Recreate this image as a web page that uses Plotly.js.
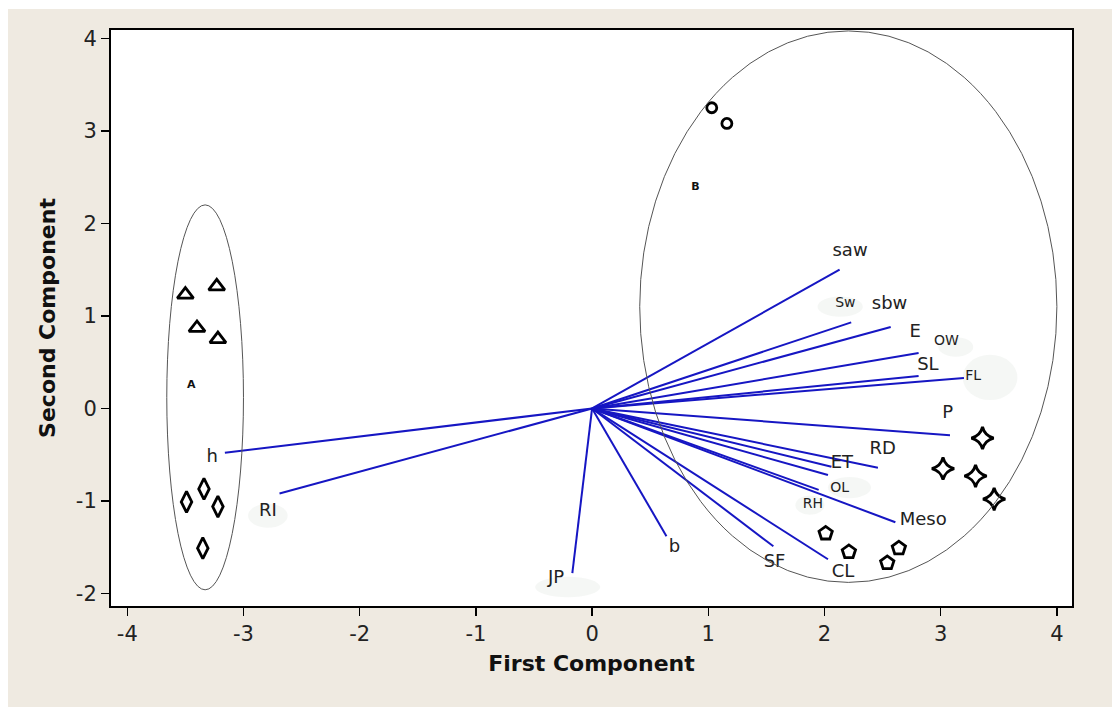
<!DOCTYPE html>
<html>
<head>
<meta charset="utf-8">
<script src="https://cdn.plot.ly/plotly-3.0.1.min.js"></script>
<style>
  html, body { margin: 0; padding: 0; background: #ffffff; width: 1112px; height: 707px; overflow: hidden; }
  #chart { position: absolute; left: 8px; top: 9px; width: 1104px; height: 698px; }
</style>
</head>
<body>
<div id="chart"></div>
<script>
// ---- Scores (observations) ----
const triX = [-3.50, -3.23, -3.40, -3.22];
const triY = [1.23, 1.32, 0.87, 0.75];
const diaX = [-3.49, -3.34, -3.22, -3.35];
const diaY = [-1.01, -0.87, -1.06, -1.51];
const cirX = [1.03, 1.16];
const cirY = [3.25, 3.08];
const starX = [3.36, 3.02, 3.30, 3.46];
const starY = [-0.32, -0.65, -0.73, -0.98];
const pentX = [2.01, 2.21, 2.64, 2.54];
const pentY = [-1.35, -1.55, -1.51, -1.67];

// ---- Loadings (vector end points) ----
const vecNames = ["h", "RI", "JP", "b", "SF", "CL", "Meso", "RH", "OL", "ET", "RD", "P", "FL", "SL", "E", "sbw", "Sw", "saw"];
const vecX = [-3.16, -2.69, -0.17, 0.64, 1.56, 2.03, 2.61, 1.95, 2.03, 2.06, 2.46, 3.08, 3.20, 2.81, 2.81, 2.57, 2.23, 2.13];
const vecY = [-0.48, -0.92, -1.78, -1.38, -1.49, -1.63, -1.23, -0.88, -0.72, -0.63, -0.64, -0.29, 0.33, 0.35, 0.60, 0.88, 0.93, 1.50];

// ---- Variable labels ----
const labText = ["h", "RI", "JP", "b", "SF", "CL", "Meso", "RH", "OL", "ET", "RD", "P", "FL", "SL", "OW", "E", "sbw", "Sw", "saw"];
const labX = [-3.27, -2.79, -0.31, 0.71, 1.57, 2.16, 2.85, 1.90, 2.13, 2.15, 2.50, 3.06, 3.28, 2.89, 3.05, 2.78, 2.56, 2.18, 2.22];
const labY = [-0.53, -1.11, -1.84, -1.50, -1.67, -1.77, -1.21, -1.04, -0.86, -0.59, -0.44, -0.05, 0.34, 0.46, 0.72, 0.82, 1.12, 1.13, 1.70];
const labSmall = ["RH", "OL", "FL", "OW", "Sw"];

// ---- Group labels and ellipses ----
const groupText = ["A", "B"];
const groupX = [-3.45, 0.89];
const groupY = [0.25, 2.39];
const ellX0 = [-3.66, 0.41];
const ellX1 = [-3.00, 4.00];
const ellY0 = [-1.96, -1.88];
const ellY1 = [2.20, 4.08];

// ---- Axis ticks ----
const xTicks = [-4, -3, -2, -1, 0, 1, 2, 3, 4];
const yTicks = [-2, -1, 0, 1, 2, 3, 4];

// faint erased blobs behind some labels [x0,x1,y0,y1]
const blobs = [
  [-2.96, -2.62, -1.29, -1.03],
  [-0.49, 0.07, -2.04, -1.82],
  [1.94, 2.33, 0.99, 1.21],
  [2.98, 3.28, 0.56, 0.77],
  [3.19, 3.66, 0.09, 0.58],
  [2.03, 2.40, -0.97, -0.74],
  [1.75, 2.00, -1.15, -0.94]
];

const FONT = "'DejaVu Sans', sans-serif";
const blue = "rgb(22,22,195)";

// build vector trace with null separators
const vx = [], vy = [];
for (let i = 0; i < vecNames.length; i++) {
  vx.push(0, vecX[i], null);
  vy.push(0, vecY[i], null);
}

function markerTrace(x, y, symbol, size) {
  return {
    type: "scatter", mode: "markers", x: x, y: y, hoverinfo: "skip",
    marker: { symbol: symbol, size: size, color: "black", line: { color: "black", width: 2.8 } }
  };
}

const traces = [
  { type: "scatter", mode: "lines", x: vx, y: vy, hoverinfo: "skip",
    line: { color: blue, width: 2 } },
  markerTrace(triX, triY, "triangle-up-open", 14),
  markerTrace(diaX, diaY, "diamond-tall-open", 15),
  markerTrace(cirX, cirY, "circle-open", 10),
  markerTrace(starX, starY, "star-diamond-open", 16),
  markerTrace(pentX, pentY, "pentagon-open", 14),
  { type: "scatter", mode: "text", x: labX, y: labY, text: labText, hoverinfo: "skip",
    textposition: "middle center",
    textfont: { family: FONT, color: "#222",
      size: labText.map(t => labSmall.includes(t) ? 14 : 18) } },
  { type: "scatter", mode: "text", x: groupX, y: groupY, text: groupText, hoverinfo: "skip",
    textposition: "middle center",
    textfont: { family: FONT, color: "#111", size: 11, weight: "bold" } }
];

const shapes = [];
blobs.forEach(b => shapes.push({
  type: "circle", xref: "x", yref: "y", x0: b[0], x1: b[1], y0: b[2], y1: b[3],
  fillcolor: "rgba(238,242,239,0.6)", line: { width: 0 }, layer: "below"
}));
for (let i = 0; i < ellX0.length; i++) {
  shapes.push({
    type: "circle", xref: "x", yref: "y", x0: ellX0[i], x1: ellX1[i], y0: ellY0[i], y1: ellY1[i],
    line: { color: "#555", width: 1 }, layer: "above"
  });
}

const axisCommon = {
  showgrid: false, zeroline: false, showline: true, linecolor: "black", linewidth: 2,
  mirror: true, ticks: "outside", ticklen: 8, tickwidth: 1.5, tickcolor: "black",
  tickfont: { family: FONT, size: 21, color: "#222" }
};

const layout = {
  width: 1104, height: 698,
  margin: { l: 103, r: 40, t: 21, b: 101 },
  paper_bgcolor: "#efeae1",
  plot_bgcolor: "#ffffff",
  showlegend: false,
  xaxis: Object.assign({}, axisCommon, {
    range: [-4.14, 4.13], tickmode: "array", tickvals: xTicks, ticktext: xTicks.map(String),
    title: { text: "First Component", font: { family: FONT, size: 22, color: "#111", weight: "bold" }, standoff: 10 }
  }),
  yaxis: Object.assign({}, axisCommon, {
    range: [-2.135, 4.09], tickmode: "array", tickvals: yTicks, ticktext: yTicks.map(String),
    title: { text: "Second Component", font: { family: FONT, size: 22, color: "#111", weight: "bold" }, standoff: 14 }
  }),
  shapes: shapes
};

Plotly.newPlot("chart", traces, layout, { displayModeBar: false, staticPlot: true });
</script>
</body>
</html>
